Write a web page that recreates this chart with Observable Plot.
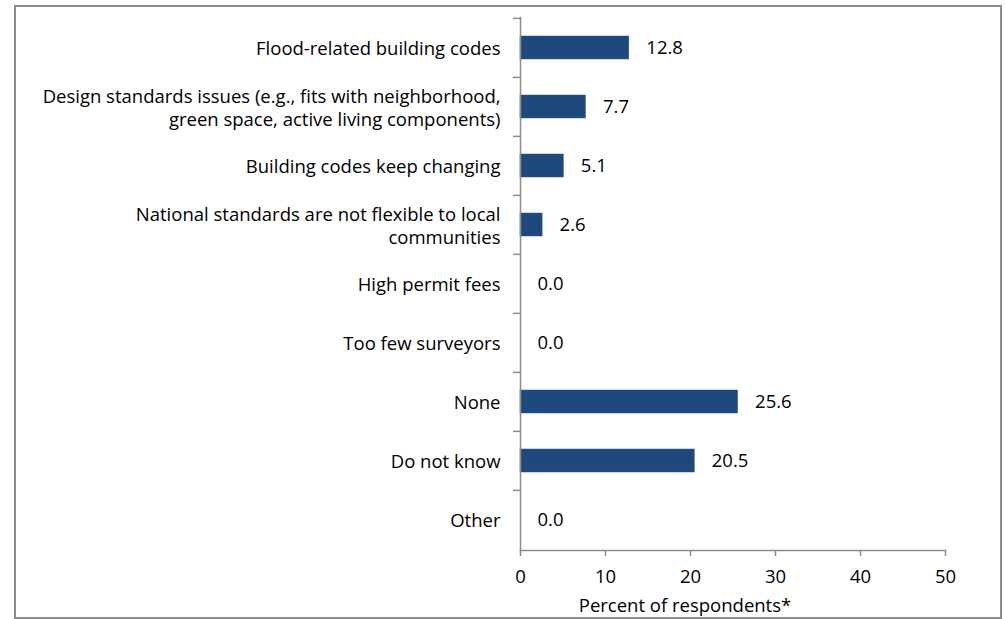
<!DOCTYPE html>
<html>
<head>
<meta charset="utf-8">
<script src="https://cdn.jsdelivr.net/npm/d3@7"></script>
<script src="https://cdn.jsdelivr.net/npm/@observablehq/plot@0.6"></script>
<style>
  html, body { margin: 0; padding: 0; background: #fff; }
  #wrap { position: relative; width: 1005px; height: 619px; overflow: hidden; }
  #border { position: absolute; left: 14px; top: 5px; width: 984px; height: 610px;
            border: 2px solid #8c8c8c; pointer-events: none; box-sizing: content-box; }
  svg { display: block; }
</style>
</head>
<body>
<div id="wrap"><div id="chart"></div><div id="border"></div></div>
<script>
const categories = [
  "Flood-related building codes",
  "Design standards issues (e.g., fits with neighborhood,\ngreen space, active living components)",
  "Building codes keep changing",
  "National standards are not flexible to local\ncommunities",
  "High permit fees",
  "Too few surveyors",
  "None",
  "Do not know",
  "Other"
];
const values = [12.8, 7.7, 5.1, 2.6, 0.0, 0.0, 25.6, 20.5, 0.0];
const xTicks = [0, 10, 20, 30, 40, 50];
const xLabel = "Percent of respondents*";

const data = categories.map((c, i) => ({category: c, value: values[i]}));

const font = "'Open Sans', sans-serif";
const fs = 18.5;
const axisColor = "#8c8c8c";

const plot = Plot.plot({
  width: 1005,
  height: 619,
  marginLeft: 520,
  marginRight: 60,
  marginTop: 17,
  marginBottom: 69,
  style: {fontFamily: font, fontSize: fs + "px", color: "#000", background: "transparent"},
  x: {domain: [0, 50], ticks: xTicks},
  y: {domain: categories, paddingInner: 0.61, paddingOuter: 0.305, align: 0.5},
  marks: [
    Plot.barX(data, {x: "value", y: "category", fill: "#1F497D", stroke: "#2e5a8e", strokeWidth: 0.5}),
    Plot.text(data, {x: "value", y: "category", text: d => d.value.toFixed(1), textAnchor: "start", dx: 17, fontSize: fs, fill: "#000"}),
    Plot.frame({anchor: "left", stroke: axisColor, strokeWidth: 1.5, strokeOpacity: 1}),
    Plot.frame({anchor: "bottom", stroke: axisColor, strokeWidth: 1.5, strokeOpacity: 1}),
    // category boundary ticks on the y axis
    Plot.tickY(categories, {y: d => d, dy: -(533 / 9) / 2, stroke: axisColor, strokeWidth: 1.5, render: (index, scales, values, dimensions, context, next) => {
      const g = next(index, scales, values, dimensions, context);
      d3.select(g).selectAll("line").attr("x1", 513).attr("x2", 520);
      return g;
    }}),
    Plot.axisX({ticks: xTicks, tickSize: 6, tickPadding: 13, stroke: axisColor, strokeWidth: 1.5, fontSize: fs, label: null, tickFormat: d => String(d)}),
    Plot.axisY({tickSize: 0, tickPadding: 20, fontSize: fs, lineHeight: 1.24, label: null}),
    Plot.text([xLabel], {frameAnchor: "bottom", dx: -48, dy: 56, fontSize: fs, lineAnchor: "middle", fill: "#000"})
  ]
});
document.getElementById("chart").appendChild(plot);
</script>
</body>
</html>
